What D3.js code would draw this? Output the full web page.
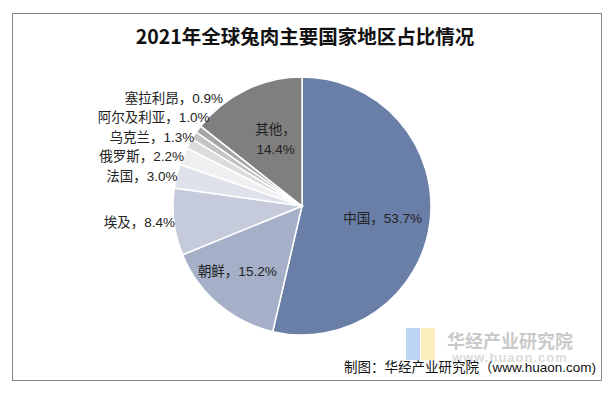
<!DOCTYPE html>
<html>
<head>
<meta charset="utf-8">
<script src="https://cdn.jsdelivr.net/npm/d3@7"></script>
<style>
  body { margin: 0; background: #fff; }
  text { font-family: "Liberation Sans", Arial, "Noto Sans CJK SC", sans-serif; }
</style>
</head>
<body>
<div id="chart"></div>
<script>
// data //
var regions = ["中国", "朝鲜", "埃及", "法国", "俄罗斯", "乌克兰", "阿尔及利亚", "塞拉利昂", "其他"];
var shares = [53.7, 15.2, 8.4, 3.0, 2.2, 1.3, 1.0, 0.9, 14.4];
var colors = ["#6a7fa7", "#a5b0c8", "#c5cbdb", "#dfe2eb", "#efeff1", "#dcdcdc", "#c4c4c4", "#a6a6a6", "#7f7f7f"];
var insideLabels = ["中国", "朝鲜", "其他"];

var width = 616, height = 395;
var cx = 302, cy = 206, radius = 129;

var svg = d3.select("#chart").append("svg")
  .attr("width", width)
  .attr("height", height);

svg.append("rect")
  .attr("x", 12.5).attr("y", 13.5)
  .attr("width", 589).attr("height", 367)
  .attr("fill", "#fff")
  .attr("stroke", "#868686");

svg.append("text")
  .attr("x", 305).attr("y", 44)
  .attr("text-anchor", "middle")
  .style("font-family", "'Noto Sans CJK SC', sans-serif")
  .style("font-weight", "bold")
  .style("font-size", "19.5px")
  .attr("fill", "#111")
  .text("2021年全球兔肉主要国家地区占比情况");

var data = regions.map(function(d, i) { return {name: d, value: shares[i], color: colors[i]}; });

var pie = d3.pie().sort(null).value(function(d) { return d.value; });
var arcs = pie(data);

var arc = d3.arc().innerRadius(0).outerRadius(radius);
var inner = d3.arc().innerRadius(radius * 0.63).outerRadius(radius * 0.63);

var g = svg.append("g")
  .attr("transform", "translate(" + cx + "," + cy + ")");

g.selectAll("path")
  .data(arcs)
  .enter().append("path")
  .attr("d", arc)
  .attr("fill", function(d) { return d.data.color; })
  .attr("stroke", "#fff")
  .attr("stroke-width", 1.5);

// inside labels
var ins = arcs.filter(function(d) { return insideLabels.indexOf(d.data.name) >= 0; });
ins.forEach(function(d) {
  var c = inner.centroid(d);
  var t = g.append("text")
    .attr("text-anchor", "middle")
    .style("font-size", "13.5px")
    .attr("fill", "#222");
  if (d.data.name == "其他") {
    t.append("tspan").attr("x", c[0] + 9).attr("y", c[1] + 1).text(d.data.name + "，");
    t.append("tspan").attr("x", c[0] + 9).attr("y", c[1] + 21).text(d.data.value.toFixed(1) + "%");
  } else {
    t.attr("x", c[0] + (d.data.name == "朝鲜" ? -12 : 0)).attr("y", c[1] + 8)
      .text(d.data.name + "，" + d.data.value.toFixed(1) + "%");
  }
});

// outside labels, stacked up so they don't collide
var outs = arcs.filter(function(d) { return insideLabels.indexOf(d.data.name) < 0; })
  .map(function(d) {
    var a = (d.startAngle + d.endAngle) / 2;
    return {d: d, y: -radius * Math.cos(a), pushed: false};
  });
var gap = 19.5;
for (var i = 1; i < outs.length; i++) {
  if (outs[i].y > outs[i - 1].y - gap) { outs[i].y = outs[i - 1].y - gap; outs[i].pushed = true; }
}
outs.forEach(function(o) {
  var yy = Math.max(-radius, Math.min(radius, o.y));
  var x = -Math.sqrt(radius * radius - yy * yy);
  if (o.pushed && yy < -100) x -= 10;
  g.append("text")
    .attr("x", x + 1)
    .attr("y", o.y + 5)
    .attr("text-anchor", "end")
    .style("font-size", "13.5px")
    .attr("fill", "#222")
    .text(o.d.data.name + "，" + o.d.data.value.toFixed(1) + "%");
});

// watermark
var wm = svg.append("g").attr("opacity", 0.75);
wm.append("rect").attr("x", 406).attr("y", 328).attr("width", 14).attr("height", 32).attr("fill", "#a8c8f2");
wm.append("rect").attr("x", 421).attr("y", 328).attr("width", 14).attr("height", 32).attr("fill", "#fbe9a8");
wm.append("text")
  .attr("x", 447).attr("y", 348)
  .style("font-family", "'Noto Sans CJK SC', sans-serif")
  .style("font-weight", "bold")
  .style("font-size", "18px")
  .attr("fill", "#b8b8b8")
  .text("华经产业研究院");
wm.append("text")
  .attr("x", 452).attr("y", 362)
  .style("font-weight", "bold")
  .style("font-size", "13px")
  .style("letter-spacing", "1px")
  .attr("fill", "#d0d0d0")
  .text("www.huaon.com");

svg.append("text")
  .attr("x", 596).attr("y", 372)
  .attr("text-anchor", "end")
  .style("font-size", "13.5px")
  .attr("fill", "#111")
  .text("制图：华经产业研究院（www.huaon.com)");
</script>
</body>
</html>
